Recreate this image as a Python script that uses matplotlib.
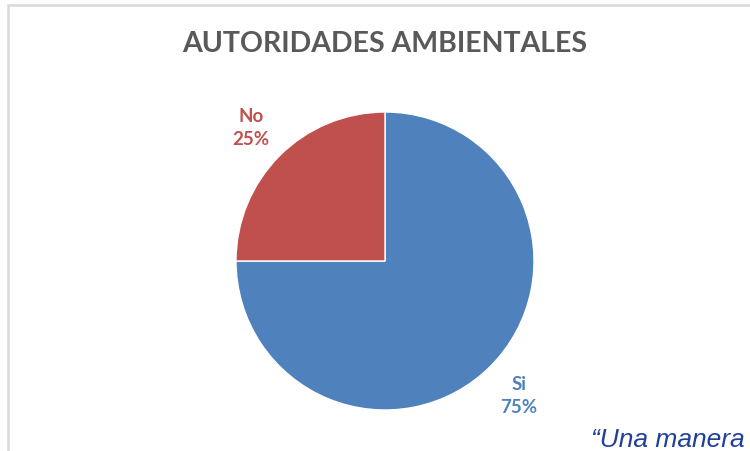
import matplotlib
matplotlib.use("Agg")
import matplotlib.pyplot as plt
from matplotlib.patches import Rectangle
import numpy as np

title = "AUTORIDADES AMBIENTALES"
categories = ["Si", "No"]
values = [75, 25]
colors = ["#4F81BD", "#C0504D"]
label_colors = ["#4F81BD", "#C0504D"]

W, H = 750, 452
fig = plt.figure(figsize=(7.5, 4.52), dpi=100)
fig.patch.set_facecolor("white")

# frame (chart area border)
fig.add_artist(Rectangle((7.5 / W, -0.1), 1.2, 1 - 6 / H + 0.1,
                         transform=fig.transFigure, fill=False,
                         edgecolor="#D9D9D9", linewidth=1.8))

cx, cy, r = 385, 262, 149
ax = fig.add_axes([(cx - r) / W, (H - cy - r) / H, 2 * r / W, 2 * r / H])
wedges, _ = ax.pie(values, colors=colors, startangle=90, counterclock=False,
                   wedgeprops=dict(edgecolor="white", linewidth=1.0))
ax.set_xlim(-1, 1)
ax.set_ylim(-1, 1)
ax.set_aspect("equal")
ax.axis("off")

total = sum(values)
for w, cat, val, col in zip(wedges, categories, values, label_colors):
    ang = np.deg2rad((w.theta1 + w.theta2) / 2)
    d = 1.27
    ax.text(d * np.cos(ang), d * np.sin(ang), f"{cat}\n{val / total * 100:.0f}%",
            ha="center", va="center", color=col, fontsize=13.5,
            fontweight="bold", family="Lato", linespacing=1.45,
            clip_on=False)

fig.text(385 / W, 1 - 44 / H, title, ha="center", va="center",
         fontsize=20.5, fontweight="bold", color="#595959", family="Lato")

fig.text(591 / W, 1 - 440 / H, "\u201cUna manera", ha="left", va="center",
         fontsize=19, style="italic", color="#1F3F99",
         family="Liberation Sans")

fig.savefig("out.png", dpi=100)
